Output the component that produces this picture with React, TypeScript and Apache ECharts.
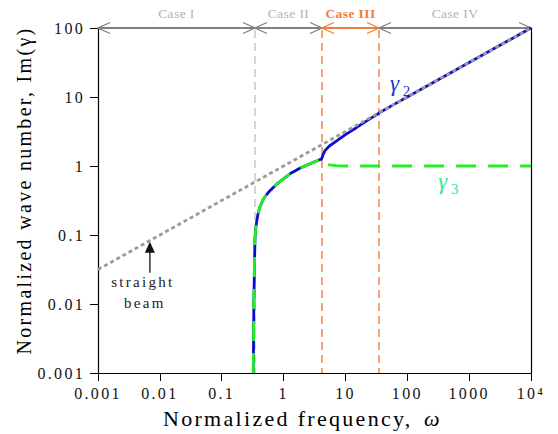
import React, { useEffect, useRef } from "react";
import * as echarts from "echarts";

// ---- data ----
const xTickLabels = ["0.001", "0.01", "0.1", "1", "10", "100", "1000", "10⁴"];
const yTickLabels = ["0.001", "0.01", "0.1", "1", "10", "100"];

// gamma_2 branch (blue)
const gamma2Omega = [
  0.324, 0.327, 0.331, 0.337, 0.345, 0.355, 0.367, 0.385, 0.416, 0.47, 0.55, 0.62, 0.8, 1.0,
  1.27, 1.8, 2.67, 3.4, 4.13, 4.3, 4.67, 5.5, 7.23, 10, 15.2, 22.1, 34.9, 60, 100, 1000, 10000,
];
const gamma2Value = [
  0.001, 0.003, 0.01, 0.03, 0.09, 0.125, 0.156, 0.2, 0.257, 0.33, 0.4, 0.45, 0.56, 0.65,
  0.77, 0.92, 1.08, 1.18, 1.27, 1.42, 1.67, 1.95, 2.32, 2.85, 3.62, 4.51, 5.85, 7.75, 10, 31.6, 100,
];

// gamma_3 branch (green, dashed)
const gamma3Omega = [
  0.324, 0.327, 0.331, 0.337, 0.345, 0.355, 0.367, 0.385, 0.416, 0.47, 0.55, 0.62, 0.8, 1.0,
  1.27, 1.8, 2.67, 3.4, 4.13, 4.4, 4.8, 5.5, 7, 10, 100, 1000, 10000,
];
const gamma3Value = [
  0.001, 0.003, 0.01, 0.03, 0.09, 0.125, 0.156, 0.2, 0.257, 0.33, 0.4, 0.45, 0.56, 0.65,
  0.77, 0.92, 1.08, 1.18, 1.27, 1.17, 1.09, 1.04, 1.01, 1.0, 1.0, 1.0, 1.0,
];

// straight beam (gray dotted)
const beamOmega = [0.001, 10000];
const beamValue = [0.0316, 100];

// case regions
const caseBounds = [0.001, 0.345, 4.18, 34.9, 10000];
const caseLabels = ["Case I", "Case II", "Case III", "Case IV"];

// annotation anchors (data units)
const gamma2LabelAt = [65, 15.5];
const gamma3LabelAt = [392, 0.593];
const beamArrowTip = [0.0069, 0.08];

// ---- styles ----
const FAMILY = "Liberation Serif";
const FONT = "Liberation Serif";
const ORANGE = "#f07d3a";
const BAR_GRAY = "#808080";
const LABEL_GRAY = "#b2b2b2";

const pairs = (xs: number[], ys: number[]) => xs.map((x, i) => [x, ys[i]]);

function txt(text: string, x: number, y: number, fill: string, font: string) {
  return {
    type: "text",
    style: {
      text, x, y, fill, font,
      align: "center", textAlign: "center",
      verticalAlign: "middle", textVerticalAlign: "middle",
    },
  };
}

function renderAnnotations(_params: any, api: any) {
  const children: any[] = [];
  const top = 100;
  const bottom = 0.001;

  // vertical case boundaries
  for (let i = 1; i < caseBounds.length - 1; i++) {
    const a = api.coord([caseBounds[i], top]);
    const b = api.coord([caseBounds[i], bottom]);
    children.push({
      type: "line",
      shape: { x1: a[0], y1: a[1] + 2, x2: b[0], y2: b[1] },
      style: { stroke: i === 1 ? "#c4c4c4" : ORANGE, lineWidth: 1.4, lineDash: [8, 5] },
    });
  }

  // case bar with chevrons
  for (let i = 0; i < caseLabels.length; i++) {
    const p0 = api.coord([caseBounds[i], top]);
    const p1 = api.coord([caseBounds[i + 1], top]);
    const col = i === 2 ? ORANGE : BAR_GRAY;
    children.push({
      type: "line",
      shape: { x1: p0[0], y1: p0[1], x2: p1[0], y2: p1[1] },
      style: { stroke: col, lineWidth: 2 },
    });
    children.push({
      type: "polyline",
      shape: { points: [[p0[0] + 12, p0[1] - 5.5], [p0[0], p0[1]], [p0[0] + 12, p0[1] + 5.5]] },
      style: { stroke: col, fill: null, lineWidth: 1.3 },
    });
    children.push({
      type: "polyline",
      shape: { points: [[p1[0] - 12, p1[1] - 5.5], [p1[0], p1[1]], [p1[0] - 12, p1[1] + 5.5]] },
      style: { stroke: col, fill: null, lineWidth: 1.3 },
    });
    children.push(
      txt(
        caseLabels[i],
        (p0[0] + p1[0]) / 2,
        p0[1] - 15,
        i === 2 ? ORANGE : LABEL_GRAY,
        (i === 2 ? "bold " : "") + "13.5px " + FONT
      )
    );
  }

  // gamma labels
  const g2 = api.coord(gamma2LabelAt);
  children.push(txt("γ", g2[0], g2[1], "#1f35e0", "italic 23px " + FONT));
  children.push(txt("2", g2[0] + 12, g2[1] + 7, "#1f35e0", "15px " + FONT));
  const g3 = api.coord(gamma3LabelAt);
  children.push(txt("γ", g3[0], g3[1], "#2ee89c", "italic 23px " + FONT));
  children.push(txt("3", g3[0] + 12, g3[1] + 7, "#2ee89c", "15px " + FONT));

  // straight beam arrow + label
  const tip = api.coord(beamArrowTip);
  children.push({
    type: "line",
    shape: { x1: tip[0], y1: tip[1] + 10, x2: tip[0], y2: tip[1] + 31 },
    style: { stroke: "#333", lineWidth: 1.5 },
  });
  children.push({
    type: "polygon",
    shape: { points: [[tip[0], tip[1]], [tip[0] - 5, tip[1] + 11], [tip[0] + 5, tip[1] + 11]] },
    style: { fill: "#111" },
  });
  children.push(txt("straight", tip[0] - 7, tip[1] + 40, "#222", "15px " + FONT));
  children.push(txt("beam", tip[0] - 5, tip[1] + 61, "#222", "15px " + FONT));

  return { type: "group", children };
}

const xLabel = (v: number) => xTickLabels[Math.round(Math.log10(v)) + 3] ?? "";
const yLabel = (v: number) => yTickLabels[Math.round(Math.log10(v)) + 3] ?? "";

const option: any = {
  animation: false,
  backgroundColor: "#fff",
  grid: { left: 98, right: 27, top: 28, bottom: 58 },
  xAxis: {
    type: "log",
    logBase: 10,
    min: 0.001,
    max: 10000,
    splitNumber: 7,
    name: "Normalized frequency, {w|ω}",
    nameLocation: "middle",
    nameGap: 34,
    nameTextStyle: {
      fontFamily: FAMILY,
      fontSize: 22,
      color: "#000",
      rich: {
        w: { fontFamily: FAMILY, fontSize: 22, fontStyle: "italic", color: "#000", padding: [0, 0, 0, 30] },
      },
    },
    axisLine: { show: true, lineStyle: { color: "#000", width: 1.2 } },
    axisTick: { show: true, inside: false, length: 8, lineStyle: { color: "#000", width: 1 } },
    minorTick: { show: false },
    splitLine: { show: false },
    axisLabel: { formatter: xLabel, fontFamily: FAMILY, fontSize: 16, color: "#111", margin: 12 },
  },
  yAxis: [
    {
      type: "log",
      logBase: 10,
      min: 0.001,
      max: 100,
      splitNumber: 5,
      position: "left",
      name: "Normalized wave number, Im(γ)",
      nameLocation: "middle",
      nameGap: 64,
      nameTextStyle: { fontFamily: FAMILY, fontSize: 20, color: "#000", padding: [0, 0, 0, 20] },
      axisLine: { show: true, lineStyle: { color: "#000", width: 1.2 } },
      axisTick: { show: true, inside: false, length: 8, lineStyle: { color: "#000", width: 1 } },
      minorTick: { show: false },
      splitLine: { show: false },
      axisLabel: { formatter: yLabel, fontFamily: FAMILY, fontSize: 16, color: "#111", margin: 13 },
    },
    {
      type: "log",
      logBase: 10,
      min: 0.001,
      max: 100,
      position: "right",
      axisLine: { show: true, lineStyle: { color: "#000", width: 1.2 } },
      axisTick: { show: false },
      axisLabel: { show: false },
      splitLine: { show: false },
    },
  ],
  series: [
    {
      type: "custom",
      name: "annotations",
      xAxisIndex: 0,
      yAxisIndex: 0,
      data: [[1, 1]],
      renderItem: renderAnnotations,
      silent: true,
      z: 1,
    },
    {
      type: "line",
      name: "gamma2",
      data: pairs(gamma2Omega, gamma2Value),
      showSymbol: false,
      symbol: "none",
      lineStyle: { color: "#0b0bd2", width: 2.8 },
      z: 3,
    },
    {
      type: "line",
      name: "gamma3",
      data: pairs(gamma3Omega, gamma3Value),
      showSymbol: false,
      symbol: "none",
      lineStyle: { color: "#22ee22", width: 2.8, type: [20, 12] },
      z: 4,
    },
    {
      type: "line",
      name: "straight beam",
      data: pairs(beamOmega, beamValue),
      showSymbol: false,
      symbol: "none",
      lineStyle: { color: "#9c9c9c", width: 2.8, type: [4, 3] },
      z: 5,
    },
  ],
};

export default function App() {
  const ref = useRef<HTMLDivElement>(null);
  useEffect(() => {
    const chart = echarts.init(ref.current!, null, { renderer: "svg" });
    chart.setOption(option);
    return () => chart.dispose();
  }, []);
  return (
    <div
      className="chart-wrap"
      style={{ position: "fixed", left: 0, top: 0, width: 558, height: 434, background: "#fff" }}
    >
      <style>{`
        .chart-wrap svg text { letter-spacing: 2.3px; }
        .chart-wrap svg text[fill="#b2b2b2"], .chart-wrap svg text[fill="#f07d3a"] { letter-spacing: 0.4px; }
      `}</style>
      <div ref={ref} style={{ width: 558, height: 434 }} />
    </div>
  );
}
